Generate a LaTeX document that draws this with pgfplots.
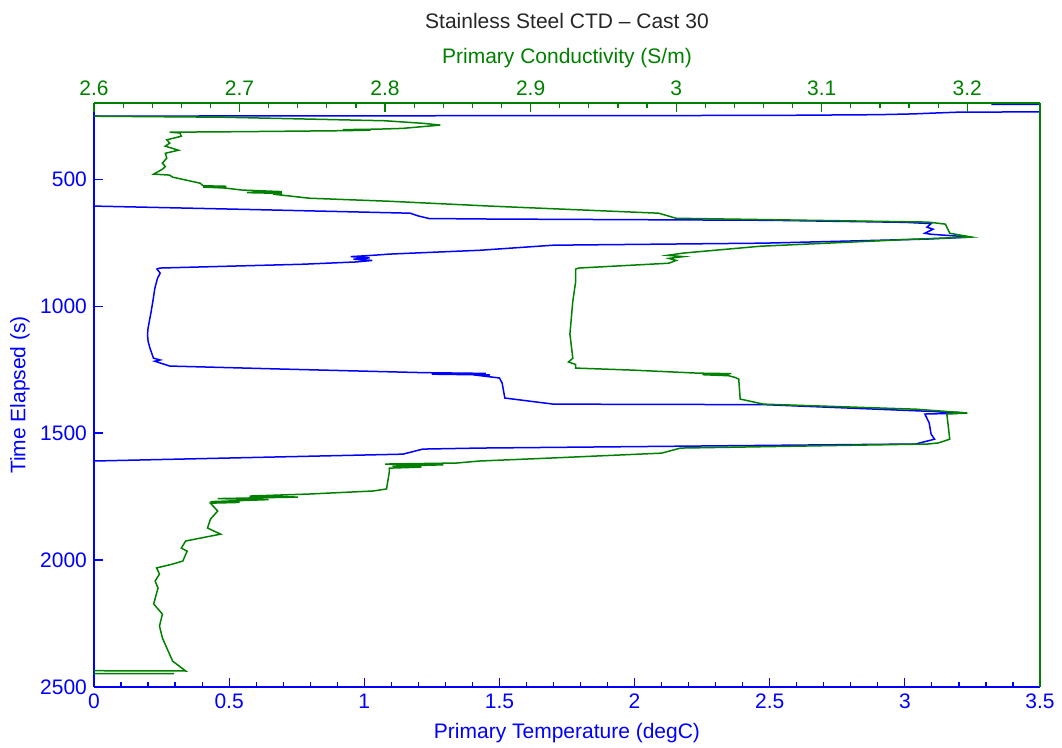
\documentclass[border=0pt]{standalone}
\usepackage{fontspec}
\setmainfont{Liberation Sans}
\usepackage{pgfplots}
\pgfplotsset{compat=1.18}
\definecolor{cgreen}{RGB}{0,128,0}
\definecolor{cblue}{RGB}{0,0,255}
\begin{document}
\begin{tikzpicture}
\pgfplotsset{every axis/.append style={font=\fontsize{10.5}{12}\selectfont}}
\begin{axis}[
  at={(0,0)}, anchor=south west,
  scale only axis, width=473pt, height=292pt,
  xmin=0, xmax=3.5, ymin=200, ymax=2500, y dir=reverse,
  axis x line*=bottom, axis y line*=left,
  axis line style={-, cblue, line width=0.6pt},
  tick style={cblue, line width=0.6pt},
  tick align=inside, major tick length=4.5pt, minor tick length=2.5pt,
  xtick={0,0.5,...,3.5}, minor x tick num=4,
  ytick={500,1000,1500,2000,2500},
  /pgf/number format/assume math mode=true,
  /pgf/number format/1000 sep={},
  ticklabel style={text=cblue},
  xlabel={Primary Temperature (degC)}, ylabel={Time Elapsed (s)},
  xlabel style={text=cblue, at={(axis description cs:0.5,0)}, anchor=center, yshift=-23pt},
  ylabel style={text=cblue, at={(axis description cs:-0.0782,0.5)}, anchor=center},
  clip=true,
]
\addplot[cblue, line width=0.75pt] coordinates {
(3.8,204) (3.32,205) (3.8,207)
(3.8,234) (3.20,236) (3.10,240) (3.03,243) (2.90,246) (2.5,249) (1.5,250) (0.5,251) (0,252) (-0.2,253)
(-0.2,604) (0,606) (0.6,620) (1.17,634) (1.20,645) (1.24,655) (1.465,657) (2.5,662) (3.0,670)
(3.097,675) (3.082,689) (3.104,697) (3.074,713) (3.097,717) (3.245,728) (3.08,736) (2.48,752)
(1.70,760) (1.428,780) (1.095,795) (1.03,800) (0.95,805) (1.02,810) (0.96,815) (1.03,820) (0.97,826)
(0.773,835) (0.244,850) (0.233,854) (0.245,870) (0.235,890) (0.225,930) (0.218,980) (0.21,1030)
(0.20,1087) (0.198,1110) (0.20,1138) (0.207,1165) (0.215,1190) (0.22,1205) (0.245,1212) (0.225,1217)
(0.28,1236) (0.7,1248) (1.217,1262) (1.45,1265) (1.25,1268) (1.465,1271) (1.43,1274) (1.50,1283)
(1.51,1303) (1.52,1362) (1.70,1386) (2.48,1388) (3.20,1419) (3.23,1421) (3.074,1425) (3.09,1460)
(3.097,1504) (3.11,1524) (3.04,1543) (1.428,1559) (1.217,1563) (1.143,1583) (0,1610) (-0.2,1615)
};
\end{axis}
\begin{axis}[
  at={(0,0)}, anchor=south west,
  scale only axis, width=473pt, height=292pt,
  xmin=2.6, xmax=3.25, ymin=200, ymax=2500, y dir=reverse,
  axis x line*=top, axis y line*=right,
  axis line style={-, cgreen, line width=0.6pt},
  tick style={cgreen, line width=0.6pt},
  tick align=inside, major tick length=4.5pt, minor tick length=2.5pt,
  xtick={2.6,2.7,...,3.2}, minor x tick num=4,
  ytick=\empty,
  /pgf/number format/assume math mode=true,
  ticklabel style={text=cgreen},
  xlabel={Primary Conductivity (S/m)},
  xlabel style={text=cgreen, at={(axis description cs:0.5,1)}, anchor=center, yshift=22.5pt},
  clip=true,
]
\addplot[cgreen, line width=0.75pt] coordinates {
(2.55,251) (2.60,252) (2.689,256) (2.80,270) (2.826,280) (2.838,287) (2.812,300)
(2.795,303) (2.771,305) (2.79,307) (2.772,309) (2.70,313) (2.652,315) (2.659,318) (2.660,331)
(2.650,345) (2.652,358) (2.649,370) (2.658,386) (2.649,398) (2.650,417) (2.647,437) (2.649,450)
(2.647,461) (2.641,480) (2.652,484) (2.654,492) (2.673,516) (2.675,526) (2.691,528) (2.675,531)
(2.69,535) (2.702,543) (2.729,549) (2.705,553) (2.729,556) (2.723,559) (2.748,575) (2.803,587)
(2.872,606) (2.988,634) (3.0,654) (3.173,669)
(3.185,677) (3.188,713) (3.203,728) (3.165,736) (3.058,764) (3.005,791) (2.994,800) (3.005,805)
(2.995,812) (3.0,820) (2.995,831) (2.933,850) (2.931,854) (2.931,902) (2.929,980) (2.927,1110)
(2.929,1205) (2.926,1220) (2.931,1230) (2.931,1244) (2.97,1252) (3.015,1264) (3.038,1266)
(3.018,1270) (3.036,1274) (3.04,1280) (3.043,1287) (3.044,1366) (3.060,1386) (3.165,1406)
(3.20,1421) (3.186,1425) (3.188,1524) (3.18,1539) (3.173,1543) (3.003,1559) (2.99,1579)
(2.915,1598) (2.865,1610) (2.849,1618) (2.80,1622) (2.84,1625) (2.805,1630) (2.825,1634)
(2.803,1638) (2.803,1650) (2.801,1720) (2.792,1728) (2.748,1740) (2.707,1748) (2.74,1752)
(2.685,1758) (2.72,1762) (2.680,1770) (2.70,1773) (2.680,1776) (2.685,1807) (2.680,1839)
(2.678,1874) (2.687,1898) (2.663,1925) (2.660,1953) (2.664,1965) (2.661,2004) (2.654,2016)
(2.643,2031) (2.645,2055) (2.642,2083) (2.644,2110) (2.641,2173) (2.647,2213) (2.645,2260)
(2.647,2307) (2.650,2346) (2.654,2398) (2.663,2437) (2.55,2435) (2.55,2447) (2.655,2447)
};
\end{axis}
\node[font=\fontsize{10.5}{12}\selectfont, text=black!85] at (236.5pt,333pt) {Stainless Steel CTD -- Cast 30};
\pgfresetboundingbox
\useasboundingbox (-47pt,-30.5pt) rectangle (484pt,343.5pt);
\end{tikzpicture}
\end{document}
